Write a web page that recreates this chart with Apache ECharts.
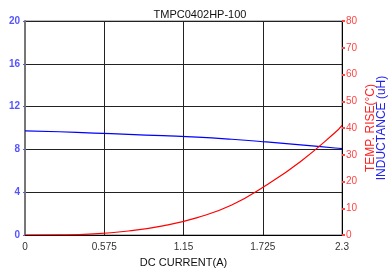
<!DOCTYPE html>
<html>
<head>
<meta charset="utf-8">
<script src="https://cdn.jsdelivr.net/npm/echarts@6/dist/echarts.min.js"></script>
<style>
html,body{margin:0;padding:0;background:#fff;}
#main{width:390px;height:277px;}
</style>
</head>
<body>
<div id="main"></div>
<script>
// DC current (A) sample points
var current = [0, 0.25, 0.5, 0.75, 1.0, 1.25, 1.5, 1.75, 2.0, 2.25, 2.3];
// temperature rise (C), red curve, right axis
var tempRise = [0, 0.05, 0.4, 1.5, 3.4, 6.5, 11.2, 18.6, 27.5, 38.3, 41];
// inductance (uH), blue curve, left axis
var inductance = [9.73, 9.65, 9.53, 9.4, 9.28, 9.15, 8.95, 8.7, 8.42, 8.13, 8.08];
var xTicks = [0, 0.575, 1.15, 1.725, 2.3];

var myChart = echarts.init(document.getElementById('main'));

function pairs(xs, ys) {
    return xs.map(function (x, i) { return [x, ys[i]]; });
}

var axisFont = {fontFamily: 'Liberation Sans, Arial, sans-serif', fontSize: 10};

var option = {
    animation: false,
    title: {
        text: 'TMPC0402HP-100',
        left: 195,
        textAlign: 'center',
        top: 4,
        textStyle: {fontFamily: 'Liberation Sans, Arial, sans-serif', fontSize: 11, fontWeight: 'normal', color: '#111'}
    },
    grid: {
        left: 25, right: 48, top: 21, bottom: 42,
        outerBoundsMode: 'none',
        containLabel: false,
        show: true,
        borderColor: '#777',
        borderWidth: 1
    },
    xAxis: {
        type: 'value',
        min: 0,
        max: 2.3,
        interval: 0.575,
        name: 'DC CURRENT(A)',
        nameLocation: 'middle',
        nameGap: 22,
        nameTextStyle: {fontFamily: 'Liberation Sans, Arial, sans-serif', fontSize: 11, color: '#111'},
        axisLine: {lineStyle: {color: '#000', width: 1}},
        axisTick: {show: false},
        axisLabel: Object.assign({
            color: '#333',
            margin: 7,
            formatter: function (v) {
                var t = xTicks.find(function (k) { return Math.abs(k - v) < 1e-6; });
                return t === undefined ? '' : String(t);
            }
        }, axisFont),
        splitLine: {lineStyle: {color: '#222', width: 1}}
    },
    yAxis: [
        {
            type: 'value',
            position: 'left',
            min: 0,
            max: 20,
            interval: 4,
            axisLine: {show: true, lineStyle: {color: '#777', width: 2}},
            axisTick: {show: true, length: 2, lineStyle: {color: '#5555ff'}},
            axisLabel: Object.assign({color: '#5555ff', margin: 5, fontWeight: 'bold'}, axisFont),
            splitLine: {lineStyle: {color: '#222', width: 1}}
        },
        {
            type: 'value',
            position: 'right',
            min: 0,
            max: 80,
            interval: 10,
            name: '{t|TEMP. RISE(\u00b0C)}\n{i|INDUCTANCE (uH)}',
            nameLocation: 'middle',
            nameGap: 23,
            nameMoveOverlap: false,
            nameRotate: 90,
            nameTextStyle: {
                lineHeight: 11,
                rich: {
                    t: {color: '#ff2222', fontSize: 12, fontFamily: 'Liberation Sans, Arial, sans-serif', lineHeight: 11},
                    i: {color: '#2222ee', fontSize: 12, fontFamily: 'Liberation Sans, Arial, sans-serif', lineHeight: 11}
                }
            },
            axisLine: {show: true, lineStyle: {color: '#000', width: 1}},
            axisTick: {show: true, length: 3, lineStyle: {color: '#ff4444', width: 2}},
            axisLabel: Object.assign({color: '#ff4444', margin: 4}, axisFont),
            splitLine: {show: false}
        }
    ],
    series: [
        {
            name: 'Inductance',
            type: 'line',
            yAxisIndex: 0,
            smooth: true,
            showSymbol: false,
            lineStyle: {color: '#0000ff', width: 1.2},
            data: pairs(current, inductance)
        },
        {
            name: 'Temp rise',
            type: 'line',
            yAxisIndex: 1,
            smooth: true,
            showSymbol: false,
            lineStyle: {color: '#ff0000', width: 1.2},
            data: pairs(current, tempRise)
        }
    ]
};
myChart.setOption(option);
</script>
</body>
</html>
